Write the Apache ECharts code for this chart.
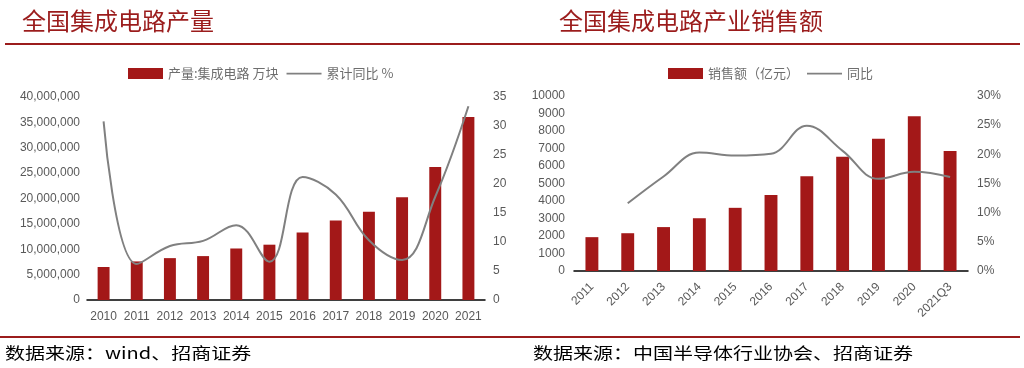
<!DOCTYPE html>
<html>
<head>
<meta charset="utf-8">
<script src="https://cdn.jsdelivr.net/npm/echarts@6/dist/echarts.min.js"></script>
<style>
html,body{margin:0;padding:0;background:#fff;}
#c{width:1024px;height:368px;}
</style>
</head>
<body>
<div id="c"></div>
<script>
// Left chart: 全国集成电路产量
var prodYears = ['2010','2011','2012','2013','2014','2015','2016','2017','2018','2019','2020','2021'];
var prodOutput = [6500000, 7600000, 8250000, 8650000, 10150000, 10900000, 13300000, 15650000, 17400000, 20250000, 26200000, 36050000];
var prodYoY = [30.8, 6.2, 9.3, 10.2, 12.9, 6.6, 21.2, 18.2, 10.3, 6.9, 17.8, 33.4];
var prodLeftTicks = { min: 0, max: 40000000, interval: 5000000 };
var prodRightTicks = { min: 0, max: 35, interval: 5 };

// Right chart: 全国集成电路产业销售额
var salesYears = ['2011','2012','2013','2014','2015','2016','2017','2018','2019','2020','2021Q3'];
var salesValue = [1934, 2159, 2509, 3015, 3610, 4336, 5411, 6532, 7562, 8848, 6859];
var salesYoY = [null, 11.6, 16.2, 20.3, 19.8, 20.1, 24.9, 20.6, 15.8, 17.0, 16.1];
var salesLeftTicks = { min: 0, max: 10000, interval: 1000 };
var salesRightTicks = { min: 0, max: 30, interval: 5 };

var RED = '#A31818';
var TITLE_RED = '#9B1C1C';
var LINE_GRAY = '#808080';
var LABEL = '#595959';
var CJK = '"Noto Sans CJK SC", "Liberation Sans", sans-serif';
var NUM = '"Liberation Sans", Arial, sans-serif';
var LINE_ICON = 'path://M0,0H40V2H0Z';

function addCommas(v){ return String(v).replace(/\B(?=(\d{3})+(?!\d))/g, ','); }

var chart = echarts.init(document.getElementById('c'), null, {renderer:'canvas'});

var option = {
  animation: false,
  backgroundColor: '#fff',
  graphic: [
    { type:'text', left: 22, top: 9, style:{ text:'全国集成电路产量', fill: TITLE_RED, font: '24px ' + CJK } },
    { type:'text', left: 559, top: 9, style:{ text:'全国集成电路产业销售额', fill: TITLE_RED, font: '24px ' + CJK } },
    { type:'line', shape:{ x1: 5, y1: 44, x2: 1020, y2: 44 }, style:{ stroke: TITLE_RED, lineWidth: 2 } },
    { type:'line', shape:{ x1: 0, y1: 337, x2: 1020, y2: 337 }, style:{ stroke: TITLE_RED, lineWidth: 2 } },
    { type:'text', x: 5, y: 345, scaleX: 1.25, style:{ text:'数据来源：wind、招商证券', fill:'#000', font:'16px ' + CJK } },
    { type:'text', x: 533, y: 345, scaleX: 1.25, style:{ text:'数据来源：中国半导体行业协会、招商证券', fill:'#000', font:'16px ' + CJK } }
  ],
  legend: [
    {
      left: 123, top: 62, itemWidth: 35, itemHeight: 11, itemGap: 8,
      textStyle: { color: '#6e6e6e', fontSize: 13, fontFamily: CJK },
      data: [ { name:'产量:集成电路 万块', icon:'rect' }, { name:'累计同比 %', icon: LINE_ICON } ]
    },
    {
      left: 663, top: 62, itemWidth: 35, itemHeight: 11, itemGap: 8,
      textStyle: { color: '#6e6e6e', fontSize: 13, fontFamily: CJK },
      data: [ { name:'销售额（亿元）', icon:'rect' }, { name:'同比', icon: LINE_ICON } ]
    }
  ],
  grid: [
    { left: 87, top: 97, width: 398, height: 203, containLabel: false },
    { left: 574, top: 96, width: 394, height: 175, containLabel: false }
  ],
  xAxis: [
    {
      type:'category', gridIndex: 0, data: prodYears,
      axisLine:{ lineStyle:{ color:'#000', width: 1.5 } },
      axisTick:{ inside: true, length: 4, lineStyle:{ color:'#000' } },
      axisLabel:{ color: LABEL, fontSize: 12, fontFamily: NUM, margin: 11, interval: 0 }
    },
    {
      type:'category', gridIndex: 1, data: salesYears,
      axisLine:{ lineStyle:{ color:'#000', width: 1.5 } },
      axisTick:{ inside: true, length: 4, lineStyle:{ color:'#000' } },
      axisLabel:{ color: LABEL, fontSize: 12, fontFamily: NUM, margin: 14, rotate: 45, interval: 0 }
    }
  ],
  yAxis: [
    {
      type:'value', gridIndex: 0, min: prodLeftTicks.min, max: prodLeftTicks.max, interval: prodLeftTicks.interval,
      splitLine:{ show:false }, axisLine:{ show:false }, axisTick:{ show:false },
      axisLabel:{ color: LABEL, fontSize: 12, fontFamily: NUM, margin: 7, formatter: function(v){ return addCommas(v); } }
    },
    {
      type:'value', gridIndex: 0, position:'right', min: prodRightTicks.min, max: prodRightTicks.max, interval: prodRightTicks.interval,
      splitLine:{ show:false }, axisLine:{ show:false }, axisTick:{ show:false },
      axisLabel:{ color: LABEL, fontSize: 12, fontFamily: NUM, margin: 8 }
    },
    {
      type:'value', gridIndex: 1, min: salesLeftTicks.min, max: salesLeftTicks.max, interval: salesLeftTicks.interval,
      splitLine:{ show:false }, axisLine:{ show:false }, axisTick:{ show:false },
      axisLabel:{ color: LABEL, fontSize: 12, fontFamily: NUM, margin: 9, formatter: function(v){ return String(v); } }
    },
    {
      type:'value', gridIndex: 1, position:'right', min: salesRightTicks.min, max: salesRightTicks.max, interval: salesRightTicks.interval,
      splitLine:{ show:false }, axisLine:{ show:false }, axisTick:{ show:false },
      axisLabel:{ color: LABEL, fontSize: 12, fontFamily: NUM, margin: 9, formatter: '{value}%' }
    }
  ],
  series: [
    { name:'产量:集成电路 万块', type:'bar', xAxisIndex:0, yAxisIndex:0, data: prodOutput, barWidth: '36%', itemStyle:{ color: RED } },
    { name:'累计同比 %', type:'line', xAxisIndex:0, yAxisIndex:1, data: prodYoY, smooth: 0.4, symbol:'none', lineStyle:{ color: LINE_GRAY, width: 2 }, itemStyle:{ color: LINE_GRAY } },
    { name:'销售额（亿元）', type:'bar', xAxisIndex:1, yAxisIndex:2, data: salesValue, barWidth: '36%', itemStyle:{ color: RED } },
    { name:'同比', type:'line', xAxisIndex:1, yAxisIndex:3, data: salesYoY, smooth: 0.4, symbol:'none', lineStyle:{ color: LINE_GRAY, width: 2 }, itemStyle:{ color: LINE_GRAY } }
  ]
};
chart.setOption(option);
</script>
</body>
</html>
